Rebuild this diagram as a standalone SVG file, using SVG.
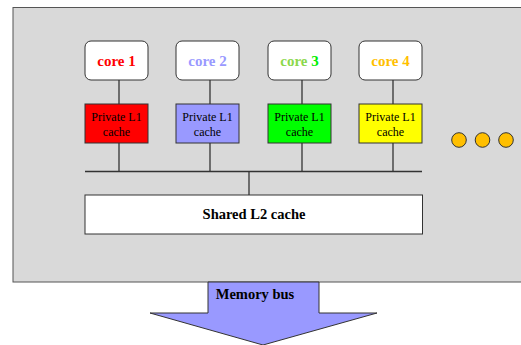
<svg xmlns="http://www.w3.org/2000/svg" width="521" height="345" viewBox="0 0 521 345">
<style>
.core{fill:#fff;stroke:#333;stroke-width:1}
.l1{stroke:#333;stroke-width:1}
.ct{font-family:"Liberation Serif",serif;font-size:15px;font-weight:bold;text-anchor:middle}
.lt{font-family:"Liberation Serif",serif;font-size:12px;text-anchor:middle;fill:#000}
.bt{font-family:"Liberation Serif",serif;font-size:14.5px;font-weight:bold;text-anchor:middle;fill:#000}
.wire{stroke:#333;stroke-width:1.3;fill:none}
.dot{fill:#ffbf00;stroke:#333;stroke-width:1}
</style>
<rect x="13" y="7.5" width="515" height="274.5" fill="#d9d9d9" stroke="#555" stroke-width="1"/>
<g id="connectors">
<line class="wire" x1="119" y1="80" x2="119" y2="104"/>
<line class="wire" x1="210" y1="80" x2="210" y2="104"/>
<line class="wire" x1="302" y1="80" x2="302" y2="104"/>
<line class="wire" x1="393" y1="80" x2="393" y2="104"/>
<line class="wire" x1="119" y1="143" x2="119" y2="171.5"/>
<line class="wire" x1="210" y1="143" x2="210" y2="171.5"/>
<line class="wire" x1="302" y1="143" x2="302" y2="171.5"/>
<line class="wire" x1="393" y1="143" x2="393" y2="171.5"/>
<line class="wire" x1="85" y1="171.5" x2="422" y2="171.5"/>
<line class="wire" x1="249" y1="171.5" x2="249" y2="195"/>
</g>
<g id="core1"><rect class="core" x="85" y="41" width="63" height="39" rx="6"/><text class="ct" x="116.5" y="66" fill="#ff0000">core 1</text></g>
<g id="core2"><rect class="core" x="176" y="41" width="63" height="39" rx="6"/><text class="ct" x="207.5" y="66" fill="#9999ff">core 2</text></g>
<g id="core3"><rect class="core" x="268" y="41" width="63" height="39" rx="6"/><text class="ct" x="299.5" y="66"><tspan fill="#8cd84c">core </tspan><tspan fill="#00ee00">3</tspan></text></g>
<g id="core4"><rect class="core" x="359" y="41" width="63" height="39" rx="6"/><text class="ct" x="390.5" y="66" fill="#ffc000">core 4</text></g>
<g id="l1-1"><rect class="l1" x="85" y="104" width="63" height="39" fill="#ff0000"/><text class="lt" x="116.5" y="121">Private L1</text><text class="lt" x="116.5" y="136">cache</text></g>
<g id="l1-2"><rect class="l1" x="176" y="104" width="63" height="39" fill="#9999ff"/><text class="lt" x="207.5" y="121">Private L1</text><text class="lt" x="207.5" y="136">cache</text></g>
<g id="l1-3"><rect class="l1" x="268" y="104" width="63" height="39" fill="#00ff00"/><text class="lt" x="299.5" y="121">Private L1</text><text class="lt" x="299.5" y="136">cache</text></g>
<g id="l1-4"><rect class="l1" x="359" y="104" width="63" height="39" fill="#ffff00"/><text class="lt" x="390.5" y="121">Private L1</text><text class="lt" x="390.5" y="136">cache</text></g>
<g id="dots"><circle class="dot" cx="459" cy="140" r="7.3"/><circle class="dot" cx="482.5" cy="140" r="7.3"/><circle class="dot" cx="506" cy="140" r="7.3"/></g>
<g id="l2"><rect x="85" y="195" width="337.5" height="39" fill="#fff" stroke="#333" stroke-width="1"/><text class="bt" x="254" y="219">Shared L2 cache</text></g>
<g id="membus"><polygon points="208,282 319,282 319,313 377,313 263,345 150,313 208,313" fill="#9999ff" stroke="#333" stroke-width="1"/><text class="bt" x="255" y="299">Memory bus</text></g>
</svg>
